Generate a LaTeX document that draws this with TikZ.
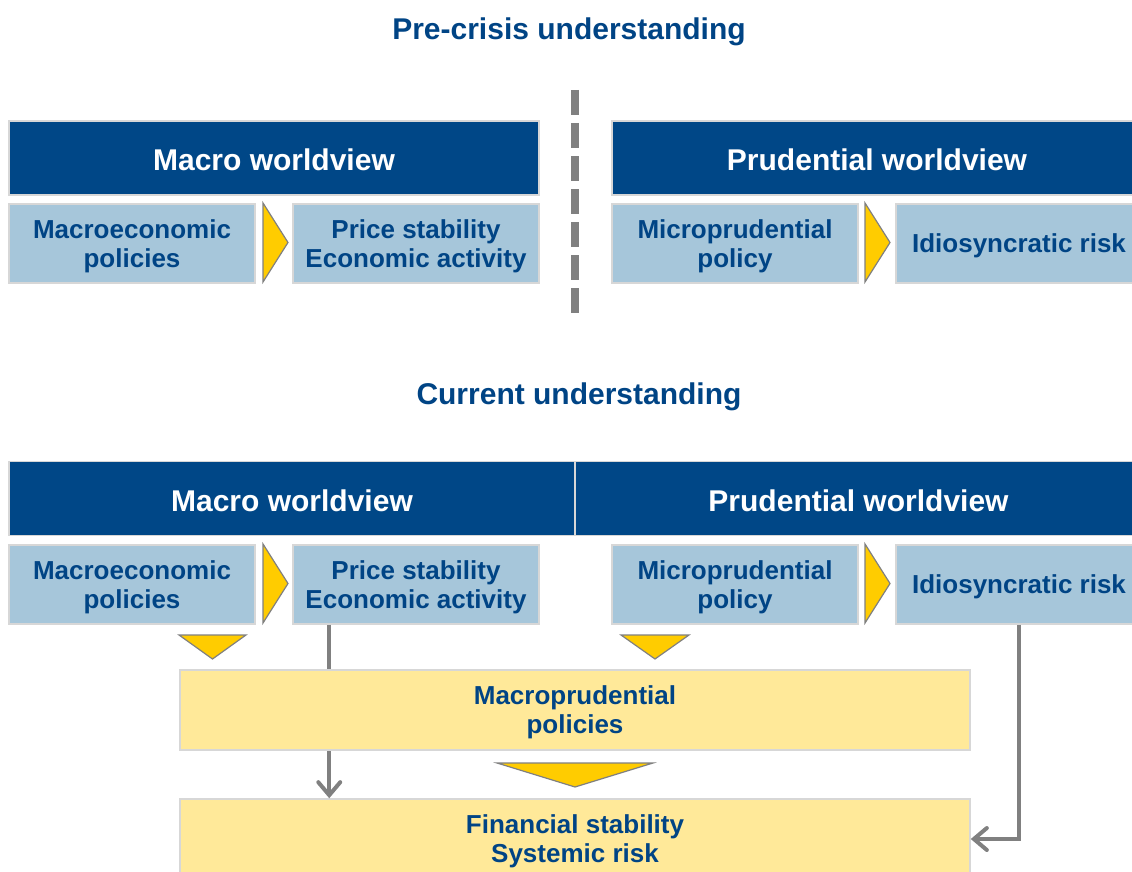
\documentclass[tikz,border=0pt]{standalone}
\usepackage{fontspec}
\setmainfont{Liberation Sans}
\usetikzlibrary{arrows.meta}

\definecolor{navy}{RGB}{0,71,135}
\definecolor{inkblue}{RGB}{0,68,133}
\definecolor{paleblue}{RGB}{166,198,218}
\definecolor{gold}{RGB}{255,204,0}
\definecolor{paleyellow}{RGB}{255,233,153}
\definecolor{edgegray}{RGB}{215,215,215}
\definecolor{linegray}{RGB}{128,128,128}

\begin{document}
\begin{tikzpicture}[x=1pt,y=-1pt,
  title/.style={text=inkblue, font=\fontsize{30}{34}\selectfont\bfseries, inner sep=0pt},
  header/.style={fill=navy, draw=edgegray, line width=1.5pt, text=white,
    font=\fontsize{30}{34}\selectfont\bfseries, inner sep=0pt, minimum height=74pt,
    text height=26pt, text depth=0pt},
  cell/.style={fill=paleblue, draw=edgegray, line width=1.5pt, text=inkblue, align=center,
    font=\fontsize{26}{29}\selectfont\bfseries, inner sep=0pt, text depth=0pt,
    minimum width=246pt, minimum height=79pt},
  band/.style={fill=paleyellow, draw=edgegray, line width=1.5pt, text=inkblue, align=center,
    font=\fontsize{26}{29}\selectfont\bfseries, inner sep=0pt, text depth=0pt,
    minimum width=790pt},
  chevron/.style={fill=gold, draw=linegray, line width=1.2pt, line join=miter},
  conn/.style={draw=linegray, line width=4pt},
  tip/.style={-{Straight Barb[length=13pt,width=22pt,line cap=round]}}
]
\useasboundingbox (0,0) rectangle (1132,872);

% ---------- pre-crisis understanding ----------
\node[title] (t1) at (569,32) {Pre-crisis understanding};

\node[header, minimum width=530pt] (h1m) at (274,158) {Macro worldview};
\node[header, minimum width=530pt] (h1p) at (877,158) {Prudential worldview};

\node[cell] (me1) at (132,243.5) {Macroeconomic\\policies};
\node[cell] (ps1) at (416,243.5) {Price stability\\Economic activity};
\node[cell] (mp1) at (735,243.5) {Microprudential\\policy};
\node[cell] (id1) at (1019,243.5) {Idiosyncratic risk};

\draw[chevron] (263,203) -- (288,242.5) -- (263,282) -- cycle;
\draw[chevron] (865,203) -- (890,242.5) -- (865,282) -- cycle;

% dashed separator between the two worldviews
\draw[linegray, line width=8pt, dash pattern=on 25pt off 8pt] (575,90) -- (575,318);

% ---------- current understanding ----------
\node[title] (t2) at (579,397) {Current understanding};

\node[header, minimum width=566pt] (h2m) at (292,498.5) {Macro worldview};
\node[header, minimum width=567pt] (h2p) at (858.5,498.5) {Prudential worldview};

\node[cell] (me2) at (132,584.5) {Macroeconomic\\policies};
\node[cell] (ps2) at (416,584.5) {Price stability\\Economic activity};
\node[cell] (mp2) at (735,584.5) {Microprudential\\policy};
\node[cell] (id2) at (1019,584.5) {Idiosyncratic risk};

\draw[chevron] (263,544) -- (288,583.5) -- (263,623) -- cycle;
\draw[chevron] (865,544) -- (890,583.5) -- (865,623) -- cycle;

% direct link from price stability down to financial stability
\coordinate (drop) at ([xshift=37pt]ps2.south west);

\node[band, minimum height=80pt] (fs) at (575,839) {Financial stability\\Systemic risk};
\draw[conn, tip] (drop) -- (drop |- fs.north);

\node[band, minimum height=80pt] (mac) at (575,710) {Macroprudential\\policies};

% feeds into macroprudential policies
\draw[chevron] (179,635) -- (246,635) -- (212.5,659) -- cycle;
\draw[chevron] (621,635) -- (689,635) -- (655,659) -- cycle;
\draw[chevron] (497,763) -- (653,763) -- (575,787) -- cycle;

% idiosyncratic risk feeds financial stability
\draw[conn, tip, line join=miter] (id2.south) |- (fs.east);
\end{tikzpicture}
\end{document}
